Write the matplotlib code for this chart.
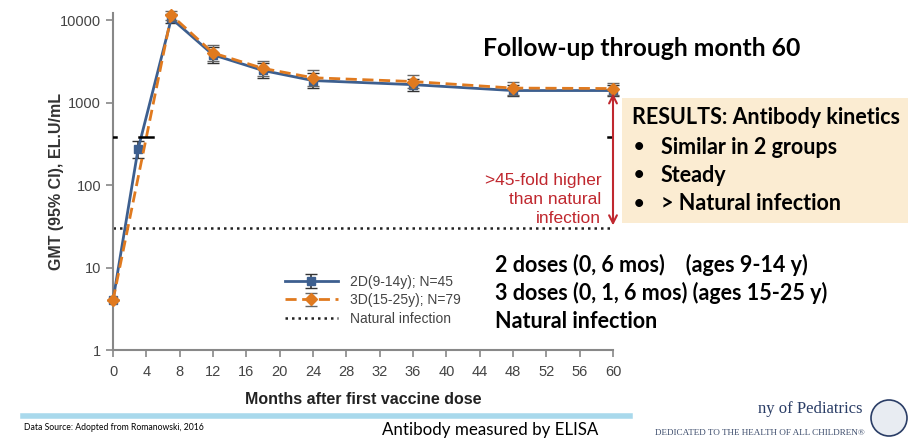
import numpy as np
import matplotlib.pyplot as plt
from matplotlib.patches import Rectangle, Ellipse

# data
months_2d = [0, 3, 7, 12, 18, 24, 36, 48, 60]
gmt_2d = [4, 270, 10500, 3800, 2450, 1850, 1650, 1400, 1400]
lo_2d = [4, 210, 9300, 3050, 2000, 1500, 1400, 1200, 1200]
hi_2d = [4, 340, 11800, 4700, 3000, 2300, 1950, 1650, 1650]

months_3d = [0, 7, 12, 18, 24, 36, 48, 60]
gmt_3d = [4, 11500, 4000, 2600, 2000, 1800, 1500, 1480]
lo_3d = [4, 10000, 3200, 2100, 1600, 1500, 1250, 1250]
hi_3d = [4, 12800, 5000, 3200, 2500, 2150, 1800, 1750]

natural_gmt = 30
marks_y = 380
marks_x = [(0, 0.4), (3.1, 4.8), (59.4, 59.9)]

xticks = list(range(0, 61, 4))
yticks = [1, 10, 100, 1000, 10000]

blue = '#3d5f8f'
orange = '#e07a1f'
red = '#c0282f'

fig = plt.figure(figsize=(9.08, 4.43), dpi=100)
ax = fig.add_axes([113/908, 1-350/443, 500/908, 337/443])

h1 = ax.errorbar(months_2d, gmt_2d,
                 yerr=[np.array(gmt_2d)-np.array(lo_2d), np.array(hi_2d)-np.array(gmt_2d)],
                 color=blue, lw=2, marker='s', ms=6, ecolor='#333333', elinewidth=1.2,
                 capsize=4, label='2D(9-14y); N=45', clip_on=False, zorder=3)
h2 = ax.errorbar(months_3d, gmt_3d,
                 yerr=[np.array(gmt_3d)-np.array(lo_3d), np.array(hi_3d)-np.array(gmt_3d)],
                 color=orange, lw=2, ls=(0, (4, 2)), marker='D', ms=6, ecolor='#666666',
                 elinewidth=1.0, capsize=4, label='3D(15-25y); N=79', clip_on=False, zorder=4)
h3, = ax.plot([0, 60], [natural_gmt, natural_gmt], color='#222222', lw=1.8, ls=(0, (1, 1.6)),
              label='Natural infection', zorder=2)
for x0, x1 in marks_x:
    ax.plot([x0, x1], [marks_y, marks_y], color='black', lw=1.8, zorder=5)

ax.set_yscale('log')
ax.set_ylim(1, 12200)
ax.set_xlim(0, 60)
ax.set_xticks(xticks)
ax.set_yticks(yticks)
ax.set_yticklabels([str(v) for v in yticks])
ax.minorticks_off()
for s in ['top', 'right']:
    ax.spines[s].set_visible(False)
for s in ['left', 'bottom']:
    ax.spines[s].set_color('#888888')
    ax.spines[s].set_linewidth(1.5)
ax.tick_params(colors='#888888', labelcolor='#444444', labelsize=10.5, width=1.2, length=5)
ax.tick_params(axis='x', pad=6)
for lab in ax.get_xticklabels() + ax.get_yticklabels():
    lab.set_family('Liberation Sans')

ax.set_ylabel('GMT (95% CI), EL.U/mL', family='Liberation Sans', fontweight='bold',
              fontsize=11.5, color='#333333')
ax.yaxis.set_label_coords(-0.097, 0.5)
ax.set_xlabel('Months after first vaccine dose', family='Liberation Sans', fontweight='bold',
              fontsize=11.5, color='#222222', labelpad=9)

leg = ax.legend([h1, h2, h3], [h1.get_label(), h2.get_label(), h3.get_label()],
                loc='upper left', bbox_to_anchor=(0.344, 0.222), frameon=False,
                prop={'family': 'Liberation Sans', 'size': 10}, handlelength=3.8,
                labelspacing=0.3, handletextpad=0.85, borderpad=0, borderaxespad=0)
for t in leg.get_texts():
    t.set_color('#444444')

# fold arrow and label
ax.annotate('', xy=(60, natural_gmt), xytext=(60, gmt_2d[-1]),
            arrowprops=dict(arrowstyle='<->', color=red, lw=1.5, mutation_scale=14), zorder=6)
ax.text(58.6, 32, '>45-fold higher\nthan natural\ninfection', ha='right', va='bottom',
        color=red, fontsize=12.5, family='Liberation Sans', linespacing=1.32)

# slide text
fig.text(483/908, 1-48/443, 'Follow-up through month 60', family='Lato', fontweight='bold',
         fontsize=17.8, va='center', ha='left')
fig.patches.append(Rectangle((622/908, 1-223/443), 286/908, 125/443, transform=fig.transFigure,
                             facecolor='#fbecd2', edgecolor='none', zorder=0))
fig.text(632/908, 1-118/443, 'RESULTS: Antibody kinetics', family='Lato', fontweight='bold',
         fontsize=15.5, va='center')
for i, s in enumerate(['Similar in 2 groups', 'Steady', '> Natural infection']):
    yy = 1 - (147 + 28*i)/443
    fig.text(634/908, yy, '•', family='Lato', fontweight='bold', fontsize=13, va='center')
    fig.text(661/908, yy, s, family='Lato', fontweight='bold', fontsize=15.5, va='center')
for i, s in enumerate(['2 doses (0, 6 mos)    (ages 9-14 y)',
                       '3 doses (0, 1, 6 mos) (ages 15-25 y)',
                       'Natural infection']):
    fig.text(495/908, 1-(265 + 28*i)/443, s, family='Lato', fontweight='bold',
             fontsize=15.5, va='center')

fig.lines.append(plt.Line2D([23/908, 630/908], [1-416/443, 1-416/443], transform=fig.transFigure,
                            color='#a9d9ec', lw=4))
fig.text(24/908, 1-428/443, 'Data Source: Adopted from Romanowski, 2016', family='Lato',
         fontsize=6.2, va='center')
fig.text(490/908, 1-430/443, 'Antibody measured by ELISA', family='Lato', fontsize=12.2,
         va='center', ha='center')
fig.text(862/908, 1-409/443, 'ny of Pediatrics', family='Liberation Serif', fontsize=12,
         va='center', ha='right', color='#2a3d66')
fig.text(865/908, 1-433/443, 'DEDICATED TO THE HEALTH OF ALL CHILDREN®', family='Liberation Serif',
         fontsize=6.6, va='center', ha='right', color='#3a4a6a')
fig.patches.append(Ellipse((889/908, 1-418/443), 36/908, 36/443, transform=fig.transFigure,
                           facecolor='#e8ecf2', edgecolor='#2a3d66', lw=1.2))

fig.savefig('out.png', dpi=100)
